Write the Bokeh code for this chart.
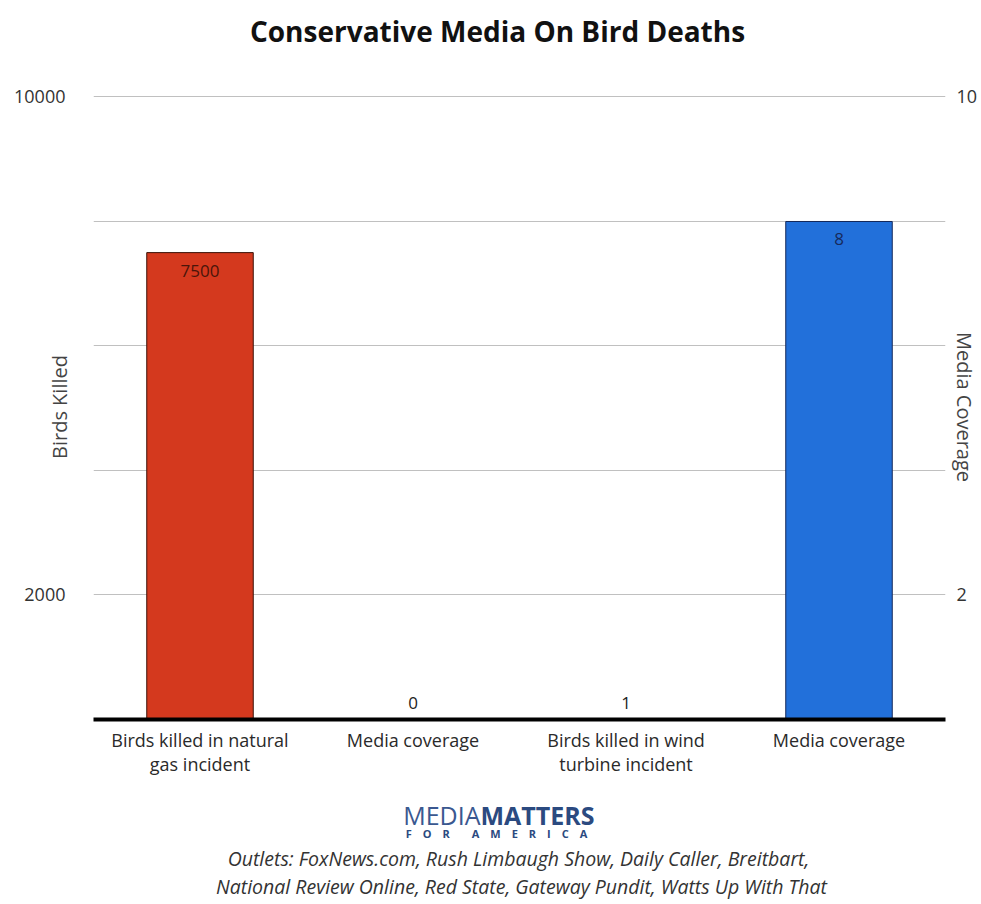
import math
from bokeh.plotting import figure
from bokeh.layouts import column
from bokeh.models import Range1d, LinearAxis, FixedTicker, Label, ColumnDataSource
from bokeh.embed import file_html
from bokeh.resources import INLINE
from bokeh.core.properties import value

# ---- data ----
categories = ["Birds killed in natural\ngas incident", "Media coverage",
              "Birds killed in wind\nturbine incident", "Media coverage"]
birds_killed = [7500, 1]        # left axis (categories 1 and 3)
media_coverage = [0, 8]         # right axis (categories 2 and 4)
left_ticks = [2000, 10000]
left_grid = [2000, 4000, 6000, 8000, 10000]
right_ticks = [2, 10]
left_max = 10000
right_max = 10

title_text = "Conservative Media On Bird Deaths"
left_label = "Birds Killed"
right_label = "Media Coverage"
logo_light = "MEDIA"
logo_bold = "MATTERS"
logo_sub = "\u2003".join("FOR") + "\u2003\u2003" + "\u2003".join("AMERICA")
outlets = ["Outlets: FoxNews.com, Rush Limbaugh Show, Daily Caller, Breitbart,",
           "National Review Online, Red State, Gateway Pundit, Watts Up With That"]

FONT = "Open Sans"
RED = "#d4391e"
BLUE = "#2270da"
PAD = 1.004  # small headroom so the top gridline is visible
FRAME_LEFT = 93  # column aligns the header/footer frames with the chart frame

positions = [i + 0.5 for i in range(len(categories))]
birds_x = positions[0::2]
media_x = positions[1::2]


def blank(width, height):
    f = figure(width=width, height=height, output_backend="svg",
               toolbar_location=None, x_range=Range1d(0, width),
               y_range=Range1d(0, height), x_axis_location=None,
               y_axis_location=None, min_border=0)
    f.grid.visible = False
    f.outline_line_color = None
    return f


def lab(fig, text, x, y, **kw):
    opts = dict(x_units="screen", y_units="screen", text_font=FONT,
                text_align="center", text_baseline="middle")
    opts.update(kw)
    fig.add_layout(Label(x=x - FRAME_LEFT, y=y, text=text, **opts))


# ---- header ----
header = blank(981, 60)
lab(header, title_text, 497, 30, text_font_size="28px", text_font_style="bold",
    text_color="#111111")

# ---- main chart ----
p = figure(width=981, height=730, output_backend="svg", toolbar_location=None,
           x_range=Range1d(0, len(categories)),
           y_range=Range1d(0, left_max * PAD),
           min_border_left=93, min_border_right=36, min_border_top=34,
           min_border_bottom=71)
p.extra_y_ranges = {"cov": Range1d(0, right_max * PAD)}
p.outline_line_color = None

p.xgrid.visible = False
p.ygrid.ticker = FixedTicker(ticks=left_grid)
p.ygrid.grid_line_color = "#c0c0c0"
p.ygrid.grid_line_width = 1

ya = p.yaxis[0]
ya.ticker = FixedTicker(ticks=left_ticks)
ya.axis_line_color = None
ya.major_tick_line_color = None
ya.minor_tick_line_color = None
ya.major_tick_out = 0
ya.minor_tick_out = 0
ya.major_label_standoff = 28
ya.major_label_text_font = FONT
ya.major_label_text_font_size = "18px"
ya.major_label_text_color = "#333333"
ya.axis_label = left_label
ya.axis_label_standoff = -62
ya.axis_label_text_font = FONT
ya.axis_label_text_font_size = "20px"
ya.axis_label_text_font_style = "normal"
ya.axis_label_text_color = "#444444"

ra = LinearAxis(y_range_name="cov", ticker=FixedTicker(ticks=right_ticks))
ra.axis_line_color = None
ra.major_tick_line_color = None
ra.minor_tick_line_color = None
ra.major_tick_out = 0
ra.minor_tick_out = 0
ra.major_label_standoff = 11
ra.major_label_text_font = FONT
ra.major_label_text_font_size = "18px"
ra.major_label_text_color = "#333333"
ra.axis_label = right_label
ra.axis_label_standoff = -29
ra.axis_label_text_font = FONT
ra.axis_label_text_font_size = "20px"
ra.axis_label_text_font_style = "normal"
ra.axis_label_text_color = "#444444"
p.add_layout(ra, "right")

xa = p.xaxis[0]
xa.ticker = FixedTicker(ticks=positions)
xa.major_label_overrides = {pos: cat for pos, cat in zip(positions, categories)}
xa.axis_line_color = "black"
xa.axis_line_width = 4
xa.major_tick_line_color = None
xa.minor_tick_line_color = None
xa.major_tick_out = 0
xa.minor_tick_out = 0
xa.major_label_standoff = 8
xa.major_label_text_font = FONT
xa.major_label_text_font_size = "18px"
xa.major_label_text_line_height = 1.0
xa.major_label_text_color = "#2a2a2a"

p.vbar(x=birds_x, top=birds_killed, width=0.5, bottom=0,
       fill_color=RED, line_color="#3a1208", line_width=1)
p.vbar(x=media_x, top=media_coverage, width=0.5, bottom=0, y_range_name="cov",
       fill_color=BLUE, line_color="#14285a", line_width=1)


def add_values(xs, vals, rng_max, range_name, inside_color):
    ins = [(x, v) for x, v in zip(xs, vals) if v > 0.1 * rng_max]
    outs = [(x, v) for x, v in zip(xs, vals) if v <= 0.1 * rng_max]
    if ins:
        src = ColumnDataSource(dict(x=[a for a, _ in ins], y=[b for _, b in ins],
                                    t=[str(b) for _, b in ins]))
        p.text(x="x", y="y", text="t", source=src, y_range_name=range_name,
               text_align="center", text_baseline="middle", y_offset=18,
               text_font=value(FONT), text_font_size="17px",
               text_color=inside_color)
    if outs:
        src = ColumnDataSource(dict(x=[a for a, _ in outs], y=[0 for _ in outs],
                                    t=[str(b) for _, b in outs]))
        p.text(x="x", y="y", text="t", source=src, y_range_name=range_name,
               text_align="center", text_baseline="middle", y_offset=-17,
               text_font=value(FONT), text_font_size="17px",
               text_color="#222222")


add_values(birds_x, birds_killed, left_max, "default", "#4a150a")
add_values(media_x, media_coverage, right_max, "cov", "#172a5c")

# ---- footer ----
footer = blank(981, 114)
lab(footer, logo_light, 480, 90, text_align="right", text_font_size="25px",
    text_color="#3a5890")
lab(footer, logo_bold, 480, 90, text_align="left", text_font_size="25px",
    text_font_style="bold", text_color="#2b4a80")
lab(footer, logo_sub, 496, 71, text_font_size="11px", text_font_style="bold",
    text_color="#2b4a80")
lab(footer, outlets[0], 518, 46, text_font_size="19.5px", text_font_style="italic",
    text_color="#333333")
lab(footer, outlets[1], 521, 18, text_font_size="19.5px", text_font_style="italic",
    text_color="#333333")

layout = column(header, p, footer, spacing=0)
open("out.html", "w").write(file_html(layout, INLINE))
